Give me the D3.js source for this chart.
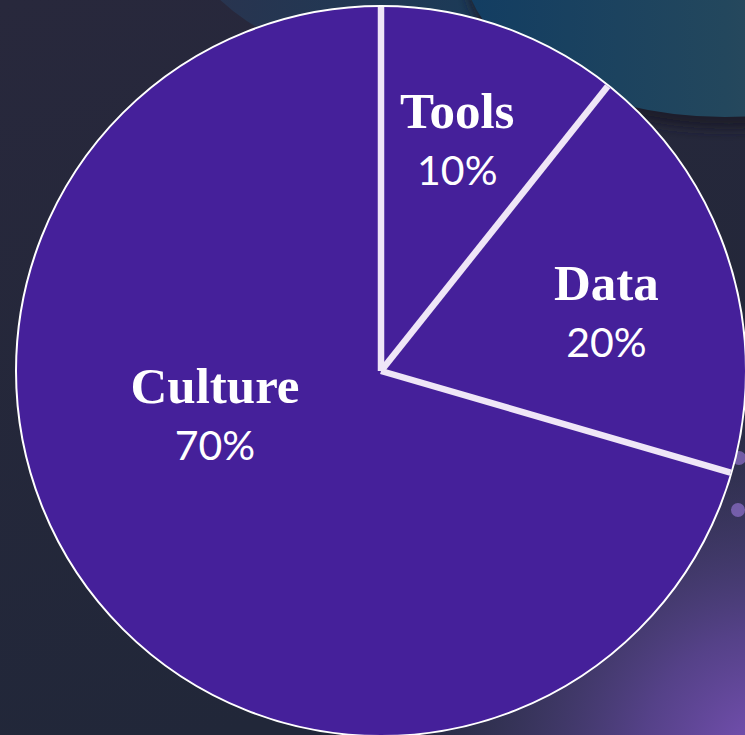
<!DOCTYPE html>
<html>
<head>
<meta charset="utf-8">
<script src="https://cdn.jsdelivr.net/npm/d3@7"></script>
<style>
  html, body { margin: 0; padding: 0; background: #25263a; overflow: hidden; }
  svg { display: block; }
</style>
</head>
<body>
<div id="chart"></div>
<script>
// datos
const categories = ["Tools", "Data", "Culture"];
const shares = [10.7, 18.8, 70.5];
const pctLabels = ["10%", "20%", "70%"];

const fullWidth = 745,
  fullHeight = 735,
  cx = 381,
  cy = 371,
  radius = 365;

const svg = d3
  .select("#chart")
  .append("svg")
  .attr("width", fullWidth)
  .attr("height", fullHeight);

const defs = svg.append("defs");

// fondo
const bg = defs.append("linearGradient").attr("id", "bg")
  .attr("x1", 0).attr("y1", 0).attr("x2", 0.3).attr("y2", 1);
bg.append("stop").attr("offset", 0).attr("stop-color", "#28283c");
bg.append("stop").attr("offset", 1).attr("stop-color", "#212739");

const teal = defs.append("linearGradient").attr("id", "teal")
  .attr("x1", 0).attr("y1", 0).attr("x2", 1).attr("y2", 0);
teal.append("stop").attr("offset", 0).attr("stop-color", "#123d62");
teal.append("stop").attr("offset", 0.5).attr("stop-color", "#23475d");
teal.append("stop").attr("offset", 1).attr("stop-color", "#46525a");

const blob = defs.append("linearGradient").attr("id", "blob")
  .attr("x1", 0).attr("y1", 0).attr("x2", 1).attr("y2", 0.3);
blob.append("stop").attr("offset", 0).attr("stop-color", "#30304a");
blob.append("stop").attr("offset", 1).attr("stop-color", "#1b3b58");

const glow = defs.append("radialGradient").attr("id", "glow")
  .attr("cx", 0.5).attr("cy", 0.5).attr("r", 0.5);
glow.append("stop").attr("offset", 0).attr("stop-color", "#7a52b8").attr("stop-opacity", 1);
glow.append("stop").attr("offset", 0.3).attr("stop-color", "#5e4696").attr("stop-opacity", 0.85);
glow.append("stop").attr("offset", 0.65).attr("stop-color", "#433c6c").attr("stop-opacity", 0.5);
glow.append("stop").attr("offset", 1).attr("stop-color", "#2c3050").attr("stop-opacity", 0);

defs.append("filter").attr("id", "soft")
  .append("feGaussianBlur").attr("stdDeviation", 6);

svg.append("rect")
  .attr("width", fullWidth)
  .attr("height", fullHeight)
  .attr("fill", "url(#bg)");

// manchas decorativas
svg.append("circle")
  .attr("cx", 770).attr("cy", 760).attr("r", 430)
  .attr("fill", "url(#glow)");

svg.append("circle")
  .attr("cx", 360).attr("cy", -150).attr("r", 205)
  .attr("fill", "url(#blob)");

svg.append("ellipse")
  .attr("cx", 728).attr("cy", -28).attr("rx", 262).attr("ry", 157)
  .attr("fill", "#1c1d2b")
  .attr("filter", "url(#soft)");

svg.append("ellipse")
  .attr("cx", 725).attr("cy", -40).attr("rx", 262).attr("ry", 157)
  .attr("fill", "url(#teal)");

svg.append("circle").attr("cx", 739).attr("cy", 458).attr("r", 7)
  .attr("fill", "#8a6cc4").attr("opacity", 0.75);
svg.append("circle").attr("cx", 738).attr("cy", 510).attr("r", 7)
  .attr("fill", "#8a6cc4").attr("opacity", 0.75);

// pastel
const pie = d3.pie().sort(null).value((d) => d.value);
const arcs = pie(categories.map((c, i) => ({ name: c, value: shares[i], pct: pctLabels[i] })));

const arc = d3.arc().innerRadius(0).outerRadius(radius);

const g = svg.append("g").attr("transform", `translate(${cx},${cy})`);

g.selectAll("path.slice")
  .data(arcs)
  .join("path")
  .attr("class", "slice")
  .attr("d", arc)
  .attr("fill", "#45209a");

// borde exterior
g.append("circle")
  .attr("r", radius)
  .attr("fill", "none")
  .attr("stroke", "#ffffff")
  .attr("stroke-width", 2);

// separadores
g.selectAll("line.sep")
  .data(arcs)
  .join("line")
  .attr("class", "sep")
  .attr("x1", 0)
  .attr("y1", 0)
  .attr("x2", (d) => d3.pointRadial(d.startAngle, radius - 1)[0])
  .attr("y2", (d) => d3.pointRadial(d.startAngle, radius - 1)[1])
  .attr("stroke", "#efe6f7")
  .attr("stroke-width", 6.5)
  .attr("stroke-linecap", "butt");

// etiquetas (desplazamiento manual como en el original)
const labelPos = {
  Tools: { r: 236, shift: -0.4 },
  Data: { r: 231, shift: 5 },
  Culture: { r: 174, shift: 19.5 }
};

const labels = g.selectAll("g.label")
  .data(arcs)
  .join("g")
  .attr("class", "label")
  .attr("transform", (d) => {
    const p = labelPos[d.data.name];
    const a = (d.startAngle + d.endAngle) / 2 + (p.shift * Math.PI) / 180;
    const [x, y] = d3.pointRadial(a, p.r);
    return `translate(${x},${y})`;
  });

labels.append("text")
  .attr("text-anchor", "middle")
  .attr("y", -20)
  .style("font-family", "'Liberation Serif', 'DejaVu Serif', serif")
  .style("font-weight", "bold")
  .style("font-size", "51px")
  .attr("fill", "#ffffff")
  .text((d) => d.data.name);

labels.append("text")
  .attr("text-anchor", "middle")
  .attr("y", 37)
  .style("font-family", "Lato, 'Open Sans', sans-serif")
  .style("font-weight", 400)
  .style("font-size", "41px")
  .attr("fill", "#ffffff")
  .text((d) => d.data.pct);
</script>
</body>
</html>
